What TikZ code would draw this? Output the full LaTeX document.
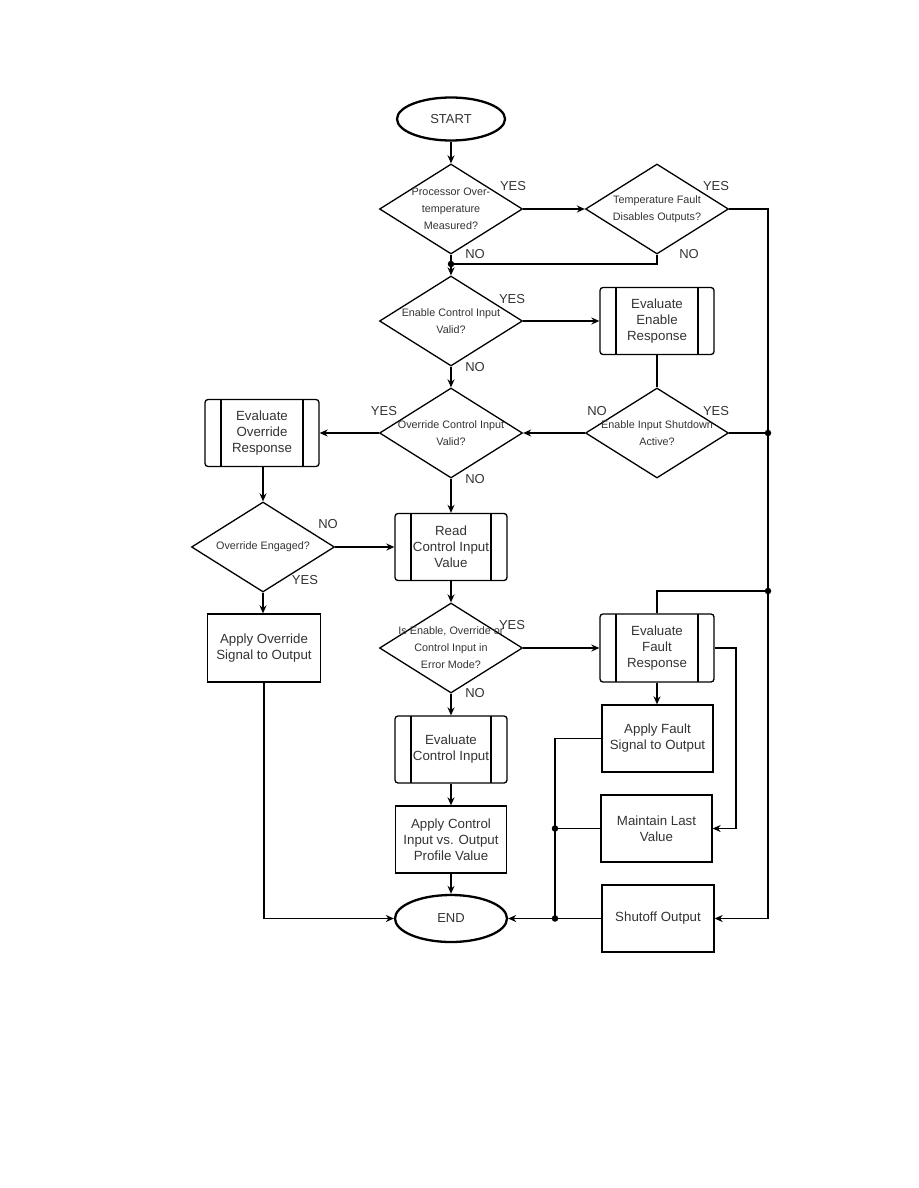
\documentclass[tikz,border=0pt]{standalone}
\usepackage{fontspec}
\setmainfont{Liberation Sans}
\usetikzlibrary{shapes.geometric,arrows.meta,calc}
\definecolor{txt}{HTML}{333333}
\begin{document}
\begin{tikzpicture}[x=1pt,y=-1pt,
  line/.style={draw=black,line width=1.3pt},
  arr/.style={line,-{Stealth[length=8pt,width=7pt]}},
  term/.style={ellipse,draw=black,line width=2.3pt,minimum width=108pt,minimum height=43pt,inner sep=0pt,font=\fontsize{13}{15}\selectfont,text=txt},
  dec/.style={diamond,draw=black,line width=1.3pt,minimum width=143pt,minimum height=90pt,inner sep=0pt},
  dtext/.style={align=center,font=\fontsize{10.8}{17}\selectfont,text=txt},
  box/.style={rectangle,draw=black,line width=1.3pt,minimum width=112pt,minimum height=67pt,inner sep=0pt,align=center,font=\fontsize{13.3}{16}\selectfont,text=txt},
  proc/.style={box,rounded corners=3pt,path picture={
     \draw[line width=1.3pt] ([xshift=16pt]path picture bounding box.north west) -- ([xshift=16pt]path picture bounding box.south west);
     \draw[line width=1.3pt] ([xshift=-16pt]path picture bounding box.north east) -- ([xshift=-16pt]path picture bounding box.south east);}},
  yn/.style={font=\fontsize{13}{15}\selectfont,text=txt,inner sep=0pt},
  dot/.style={circle,fill=black,inner sep=0pt,minimum size=6.5pt}
]
\useasboundingbox (0,0) rectangle (918,1188);

% terminals
\node[term] (start) at (451,119) {START};
\node[term,minimum width=112pt,minimum height=47pt] (end) at (451,918.5) {END};

% decisions
\node[dec] (d1) at (451,209) {};
\node[dtext] at (d1.center) {Processor Over-\\temperature\\Measured?};
\node[dec] (d2) at (657,209) {};
\node[dtext] at (d2.center) {Temperature Fault\\Disables Outputs?};
\node[dec] (d3) at (451,321) {};
\node[dtext] at (d3.center) {Enable Control Input\\Valid?};
\node[dec] (d4) at (657,433) {};
\node[dtext] at (d4.center) {Enable Input Shutdown\\Active?};
\node[dec] (d5) at (451,433) {};
\node[dtext] at (d5.center) {Override Control Input\\Valid?};
\node[dec] (d6) at (263,547) {};
\node[dtext] at (d6.center) {Override Engaged?};
\node[dec] (d7) at (451,648) {};
\node[dtext] at (d7.center) {Is Enable, Override or\\Control Input in\\Error Mode?};

% process boxes
\node[proc,minimum width=114pt] (eer) at (657,321) {Evaluate\\Enable\\Response};
\node[proc,minimum width=114pt] (eor) at (262,433) {Evaluate\\Override\\Response};
\node[proc] (rciv) at (451,547) {Read\\Control Input\\Value};
\node[box,minimum width=113pt,minimum height=68pt] (aoso) at (264,648) {Apply Override\\Signal to Output};
\node[proc,minimum width=114pt,minimum height=68pt] (efr) at (657,648) {Evaluate\\Fault\\Response};
\node[box,minimum width=111pt] (afso) at (657.5,738.5) {Apply Fault\\Signal to Output};
\node[proc] (eci) at (451,749.5) {Evaluate\\Control Input};
\node[box,minimum width=111pt] (mlv) at (656.5,828.5) {Maintain Last\\Value};
\node[box,minimum width=111pt] (aciopv) at (451,839.5) {Apply Control\\Input vs. Output\\Profile Value};
\node[box] (so) at (658,918.5) {Shutoff Output};

% helper coordinates
\coordinate (j1) at (451,264);
\coordinate (busA) at (768,433);
\coordinate (busB) at (768,591);
\coordinate (busE) at (768,918.5);
\coordinate (efrR) at (736,648);
\coordinate (lbA) at (555,828.5);
\coordinate (lbB) at (555,918.5);

% connectors
\draw[arr] (start) -- (d1);
\draw[arr] (d1.east) -- (d2.west);
\draw[arr] (d2.east) -| (busE) -- (so.east);
\draw[line] (d2.south) |- (j1);
\draw[arr] (d1.south) -- (d3.north);
\draw[arr] (d3.east) -- (eer.west);
\draw[line] (eer.south) -- (d4.north);
\draw[line] (d4.east) -- (busA);
\draw[arr] (d4.west) -- (d5.east);
\draw[arr] (d3.south) -- (d5.north);
\draw[arr] (d5.west) -- (eor.east);
\draw[arr] (eor.south -| d6.north) -- (d6.north);
\draw[arr] (d6.east) -- (rciv.west);
\draw[arr] (d5.south) -- (rciv.north);
\draw[arr] (d6.south) -- (d6.south |- aoso.north);
\draw[arr] (aoso.south) |- (end.west);
\draw[arr] (rciv.south) -- (d7.north);
\draw[arr] (d7.east) -- (efr.west);
\draw[arr] (d7.south) -- (eci.north);
\draw[arr] (eci.south) -- (aciopv.north);
\draw[arr] (aciopv.south) -- (end.north);
\draw[line] (efr.north) |- (busB);
\draw[arr] (efr.south) -- (afso.north -| efr.south);
\draw[arr] (efr.east) -- (efrR) |- (mlv.east);
\draw[line] (afso.west) -| (lbB);
\draw[line] (mlv.west) -- (lbA);
\draw[arr] (so.west) -- (end.east);

% junction dots
\node[dot] at (j1) {};
\node[dot] at (busA) {};
\node[dot] at (busB) {};
\node[dot] at (lbA) {};
\node[dot] at (lbB) {};

% YES / NO labels
\node[yn] at (513,186) {YES};
\node[yn] at (475,254) {NO};
\node[yn] at (716,186) {YES};
\node[yn] at (689,254) {NO};
\node[yn] at (512,299) {YES};
\node[yn] at (475,367) {NO};
\node[yn] at (597,411) {NO};
\node[yn] at (716,411) {YES};
\node[yn] at (384,411) {YES};
\node[yn] at (475,479) {NO};
\node[yn] at (328,524) {NO};
\node[yn] at (305,580) {YES};
\node[yn] at (512,625) {YES};
\node[yn] at (475,693) {NO};
\end{tikzpicture}
\end{document}
